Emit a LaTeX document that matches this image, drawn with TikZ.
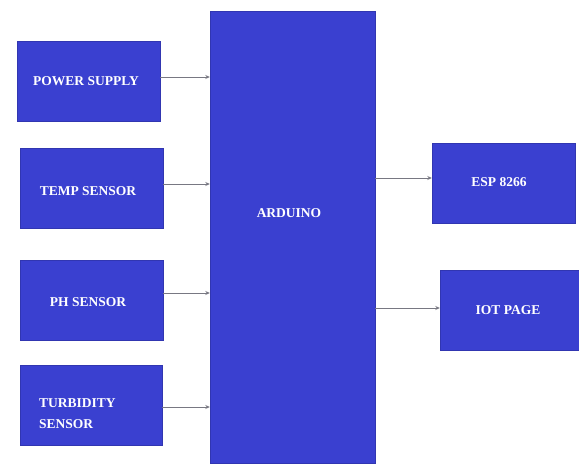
\documentclass[tikz,border=0pt]{standalone}
\usepackage{fontspec}
\setmainfont{Liberation Serif}
\usetikzlibrary{arrows.meta}
\definecolor{boxblue}{RGB}{58,64,208}
\definecolor{linegray}{RGB}{120,120,130}
\begin{document}
\begin{tikzpicture}[x=1pt,y=-1pt,
  blk/.style={draw=boxblue!85!black,line width=0.4pt,fill=boxblue,inner sep=0pt},
  conn/.style={draw=linegray,line width=0.7pt,-{Stealth[length=4.5pt,width=4pt]}},
  lbl/.style={text=white,font=\bfseries\fontsize{13.5}{21}\selectfont,inner sep=0pt}]
\useasboundingbox (0,0) rectangle (579,466);
\fill[white] (0,0) rectangle (579,466);
\node[blk,minimum width=143,minimum height=80] (ps) at (88.5,81) {};
\node[lbl] (psl) at (86,81) {POWER SUPPLY};
\node[blk,minimum width=143,minimum height=80] (ts) at (91.5,188) {};
\node[lbl] (tsl) at (88,191) {TEMP SENSOR};
\node[blk,minimum width=143,minimum height=80] (ph) at (91.5,300) {};
\node[lbl] (phl) at (88,302) {PH SENSOR};
\node[blk,minimum width=142,minimum height=80] (tb) at (91,405) {};
\node[lbl,align=left,anchor=west] (tbl) at (39,414) {TURBIDITY\\SENSOR};
\node[blk,minimum width=165,minimum height=452] (ard) at (292.5,237) {};
\node[lbl] (ardl) at (289,213) {ARDUINO};
\node[blk,minimum width=143,minimum height=80] (esp) at (503.5,183) {};
\node[lbl] (espl) at (499,182) {ESP 8266};
\node[blk,minimum width=141,minimum height=80] (iot) at (510.5,310) {};
\node[lbl] (iotl) at (508,310) {IOT PAGE};
\draw[conn] (ps.east |- 0,77) -- (ard.west |- 0,77);
\draw[conn] (ts.east |- 0,184) -- (ard.west |- 0,184);
\draw[conn] (ph.east |- 0,293) -- (ard.west |- 0,293);
\draw[conn] (tb.east |- 0,407) -- (ard.west |- 0,407);
\draw[conn] (ard.east |- 0,178) -- (esp.west |- 0,178);
\draw[conn] (ard.east |- 0,308) -- (iot.west |- 0,308);
\end{tikzpicture}
\end{document}
